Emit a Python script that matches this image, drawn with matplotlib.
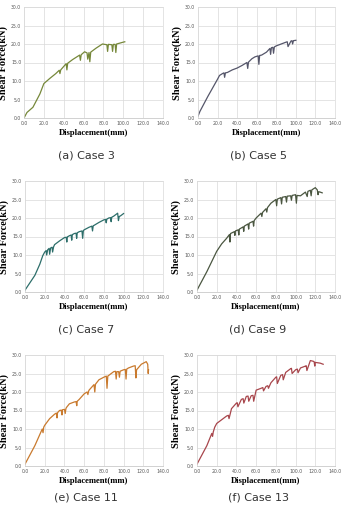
import matplotlib.pyplot as plt
import numpy as np

# ------------------------------  data  ------------------------------
case3_x = [0, 3, 9, 16, 20, 26, 32, 35.5, 36.2, 37, 42.5, 43.2, 44, 49, 56, 56.8, 57.6, 61,
           63.5, 64.2, 65.5, 66.3, 67.2, 72.7, 79, 83.5, 84.2, 85, 88.5, 89.2, 90, 91.8, 92.5,
           93.3, 96, 100, 101.5]
case3_y = [0, 1.5, 2.9, 6.5, 9.3, 10.7, 12, 12.9, 12.0, 13.0, 14.7, 13.0, 14.8, 15.8, 17.0,
           15.6, 17.1, 17.9, 17.6, 15.9, 17.7, 15.2, 17.8, 18.9, 20.0, 19.8, 18.0, 19.9, 19.8,
           18.0, 19.9, 19.9, 17.7, 20.0, 20.2, 20.5, 20.6]

case5_x = [0, 2, 10, 20, 22, 25, 26.5, 27.2, 28, 30, 35, 40, 45, 50, 50.8, 51.6, 55, 58, 61.5,
           62.2, 63, 65, 70, 73.5, 74.2, 75, 76.5, 77.2, 78, 80, 85, 90, 91.2, 92, 95, 96,
           96.7, 97.5, 100]
case5_y = [0.5, 1.8, 5.8, 10.5, 11.5, 12.0, 12.2, 11.0, 12.2, 12.3, 13.0, 13.5, 14.2, 15.0,
           13.4, 15.1, 16.0, 16.5, 16.8, 14.5, 16.9, 17.0, 17.8, 18.8, 17.2, 19.0, 19.1, 17.5,
           19.2, 19.5, 20.0, 20.5, 20.6, 19.3, 20.8, 20.9, 20.0, 20.9, 21.0]

case7_x = [0, 5, 10, 15, 18, 20, 21.5, 22, 23, 24.5, 25, 26, 27.5, 28, 29, 30, 35, 40, 41.8,
           42.4, 43, 45, 46.8, 47.4, 48, 50, 51.8, 52.4, 53, 55, 57.8, 58.5, 59.2, 60, 65,
           67.8, 68.5, 69.2, 70, 75, 80, 81.8, 82.4, 83, 85, 86.8, 87.4, 88, 90, 94, 94.8,
           95.6, 97, 100]
case7_y = [0.5, 2.5, 4.5, 7.5, 9.8, 10.8, 11.2, 10.0, 11.4, 11.8, 10.2, 11.9, 12.1, 10.8,
           12.2, 12.8, 13.8, 14.7, 14.8, 13.5, 14.9, 15.2, 15.4, 14.0, 15.5, 15.8, 15.9, 14.5,
           16.0, 16.3, 16.5, 14.5, 16.6, 16.8, 17.5, 17.8, 16.5, 17.9, 18.0, 18.8, 19.5, 19.6,
           18.7, 19.7, 20.0, 20.1, 19.0, 20.2, 20.5, 21.3, 19.3, 20.4, 20.6, 21.2]

case9_x = [0, 5, 10, 20, 25, 30, 32.8, 33.4, 34, 37.8, 38.4, 39, 41.8, 42.4, 43, 46.8, 47.4,
           48, 51.8, 52.4, 53, 56.8, 57.4, 58, 60, 65, 65.8, 66.5, 70, 70.8, 71.5, 75, 80,
           80.8, 81.5, 85, 85.8, 86.5, 90, 90.8, 91.5, 95, 95.8, 96.5, 100, 100.8, 101.5,
           105, 110, 111.8, 112.5, 115, 115.8, 116.5, 120, 122, 122.8, 123.5, 125, 127]
case9_y = [0.5, 3.0, 5.5, 11.0, 13.0, 14.5, 15.5, 13.5, 15.8, 16.3, 15.3, 16.5, 16.8, 15.4,
           17.0, 17.6, 16.4, 17.8, 18.4, 17.0, 18.6, 19.1, 17.8, 19.3, 20.0, 21.3, 20.4, 21.5,
           22.5, 21.6, 22.8, 24.0, 25.0, 23.3, 25.1, 25.5, 23.8, 25.6, 25.8, 24.3, 25.9, 26.0,
           24.8, 26.1, 26.3, 24.0, 26.1, 26.0, 27.0, 25.8, 27.2, 27.5, 26.0, 27.6, 28.2,
           27.6, 26.3, 27.1, 27.0, 26.8]

case11_x = [0, 5, 10, 17.5, 18.3, 19, 20, 25, 30, 31.8, 32.5, 33, 35, 36.8, 37.5, 38, 40,
            40.8, 41.5, 42, 45, 50, 51.8, 52.5, 53, 55, 60, 63, 63.8, 64.5, 65, 70, 70.8,
            71.5, 75, 80, 82.5, 83.2, 84, 85, 90, 91.8, 92.5, 93.2, 95, 95.8, 96.5, 97.2,
            100, 101.8, 102.5, 103.2, 105, 110, 111.8, 112.5, 113.2, 118, 123, 124.5, 125,
            125.3]
case11_y = [0.5, 3.0, 5.5, 10.0, 9.0, 10.5, 11.0, 12.8, 14.0, 14.3, 13.0, 14.4, 15.0, 15.1,
            13.8, 15.2, 15.3, 14.2, 15.5, 15.8, 16.8, 17.3, 17.4, 16.3, 17.5, 18.0, 19.5, 20.0,
            19.3, 20.2, 20.5, 22.0, 20.0, 22.1, 23.3, 24.0, 24.3, 21.0, 24.3, 24.5, 25.5, 25.6,
            23.5, 25.5, 25.5, 24.0, 25.6, 25.7, 26.0, 26.1, 23.5, 26.2, 26.5, 27.0, 27.1, 23.8,
            26.0, 27.5, 28.2, 27.5, 25.0, 26.0]

case13_x = [0, 5, 10, 15, 15.8, 16.5, 18, 20, 25, 30, 31.8, 32.5, 35, 40, 40.8, 41.5, 45,
            46.8, 47.5, 50, 51.8, 52.5, 55, 56.8, 57.5, 60, 65, 66.8, 67.5, 70, 71.8, 72.5, 75,
            80, 80.8, 81.5, 85, 86.8, 87.5, 90, 95, 95.8, 96.5, 100, 101.8, 102.5, 105, 110,
            110.8, 111.5, 115, 118, 118.8, 119.5, 120, 125, 128]
case13_y = [0.5, 3.0, 5.5, 8.8, 8.0, 9.2, 10.5, 11.5, 12.5, 13.5, 13.7, 12.8, 15.5, 17.0, 17.1,
            16.0, 18.0, 18.2, 17.0, 18.8, 18.9, 17.5, 19.0, 19.1, 17.5, 20.5, 21.0, 21.2, 20.3,
            21.5, 21.7, 21.0, 22.5, 24.0, 24.1, 22.3, 24.5, 24.7, 23.3, 25.3, 26.3, 26.4, 25.0,
            26.0, 26.2, 25.2, 26.5, 27.0, 27.1, 25.8, 28.5, 28.3, 28.2, 27.0, 28.0, 27.8, 27.5]

captions = ['(a) Case 3', '(b) Case 5', '(c) Case 7', '(d) Case 9', '(e) Case 11', '(f) Case 13']
series = [(case3_x, case3_y), (case5_x, case5_y), (case7_x, case7_y),
          (case9_x, case9_y), (case11_x, case11_y), (case13_x, case13_y)]
colors = ['#76883a', '#55566a', '#2d6e6a', '#4a5640', '#c97a2e', '#a8464c']

x_ticks = np.arange(0, 141, 20)
y_ticks = np.arange(0, 31, 5)

# axes boxes in pixels: left, right, top, bottom
boxes = [(24, 163, 7, 118), (198, 335, 7, 118),
         (25, 163, 181, 292), (197, 335, 181, 292),
         (25, 163, 355, 466), (197, 335, 355, 466)]

W, H = 344, 505
fig = plt.figure(figsize=(W / 100, H / 100), dpi=100)

for i, (l, r, t, b) in enumerate(boxes):
    ax = fig.add_axes([l / W, 1 - b / H, (r - l) / W, (b - t) / H])
    xs, ys = series[i]
    ax.plot(xs, ys, color=colors[i], linewidth=0.9)
    ax.set_xlim(0, 140)
    ax.set_ylim(0, 30)
    ax.set_xticks(x_ticks)
    ax.set_yticks(y_ticks)
    ax.set_xticklabels([f'{v:.1f}' for v in x_ticks], fontsize=3.3, color='#555555')
    ax.set_yticklabels([f'{v:.1f}' for v in y_ticks], fontsize=3.3, color='#555555')
    ax.tick_params(length=0, pad=2)
    ax.grid(True, color='#d9d9d9', linewidth=0.5)
    ax.set_axisbelow(True)
    for s in ax.spines.values():
        s.set_color('#d9d9d9')
        s.set_linewidth(0.5)
    ax.spines['bottom'].set_color('#bfbfbf')
    ax.set_xlabel('Displacement(mm)', fontsize=6.2, fontweight='bold',
                  family='Liberation Serif', labelpad=2)
    ax.set_ylabel('Shear Force(kN)', fontsize=7.5, fontweight='bold',
                  family='Liberation Serif', labelpad=2)
    cx = 86 if i % 2 == 0 else 258
    gap = 37 if i < 4 else 32  # bottom row nudged up so the captions stay on the canvas
    fig.text(cx / W, 1 - (b + gap) / H, captions[i], ha='center', va='center',
             fontsize=8, color='#333333', family='DejaVu Sans')

fig.savefig('out.png', dpi=100)
